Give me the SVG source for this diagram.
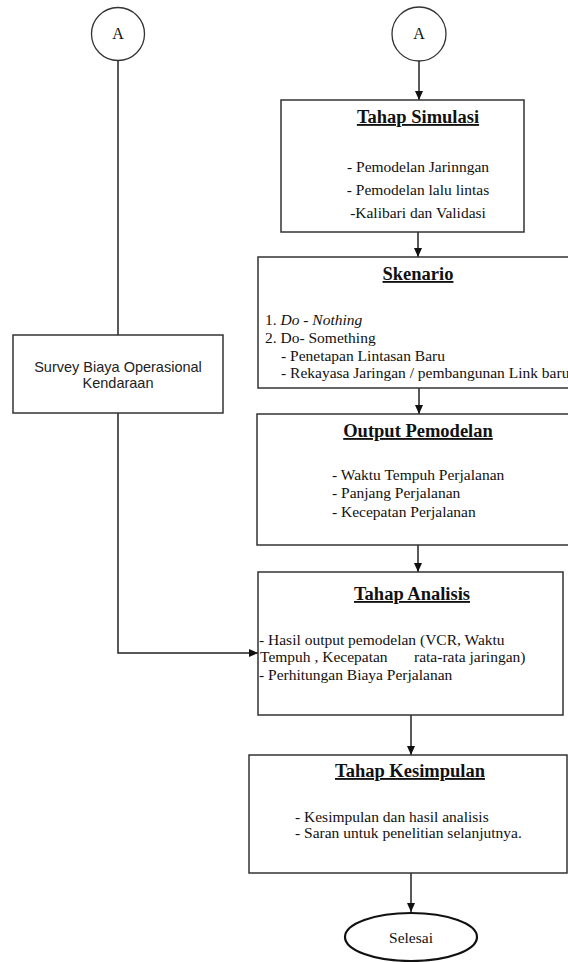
<svg xmlns="http://www.w3.org/2000/svg" width="568" height="962" viewBox="0 0 568 962">
<style>
.box{fill:#fff;stroke:#333;stroke-width:1.5}
.ln{fill:none;stroke:#222;stroke-width:1.5}
.t{font-family:"Liberation Serif","Times New Roman",serif;font-size:15.5px;fill:#111}
.h{font-family:"Liberation Serif","Times New Roman",serif;font-size:18.5px;font-weight:bold;fill:#111;text-decoration:underline;text-anchor:middle}
.s{font-family:"Liberation Sans",Arial,sans-serif;font-size:14.5px;fill:#222;text-anchor:middle}
.c{font-family:"Liberation Serif","Times New Roman",serif;font-size:16px;fill:#111;text-anchor:middle}
</style>
<defs>
<marker id="ar" markerWidth="10" markerHeight="10" refX="9" refY="5" orient="auto" markerUnits="userSpaceOnUse">
<path d="M0,1 L9,5 L0,9 Z" fill="#111"/>
</marker>
</defs>
<rect width="568" height="962" fill="#fff"/>
<g id="connectors">
<line class="ln" x1="419" y1="61" x2="419" y2="100" marker-end="url(#ar)"/>
<line class="ln" x1="418" y1="232" x2="418" y2="257" marker-end="url(#ar)"/>
<line class="ln" x1="419" y1="388" x2="419" y2="414" marker-end="url(#ar)"/>
<line class="ln" x1="418" y1="545" x2="418" y2="572" marker-end="url(#ar)"/>
<line class="ln" x1="411" y1="715" x2="411" y2="755" marker-end="url(#ar)"/>
<line class="ln" x1="411" y1="873" x2="411" y2="912" marker-end="url(#ar)"/>
<line class="ln" x1="118" y1="61" x2="118" y2="335"/>
<polyline class="ln" points="118,413 118,653 258,653" marker-end="url(#ar)"/>
</g>
<g id="nodeA1">
<circle cx="118" cy="34" r="26.5" fill="#fff" stroke="#333" stroke-width="1.3"/>
<text class="c" x="118" y="39">A</text>
</g>
<g id="nodeA2">
<circle cx="419" cy="34" r="27" fill="#fff" stroke="#333" stroke-width="1.3"/>
<text class="c" x="419" y="39">A</text>
</g>
<g id="simulasi">
<rect class="box" x="281" y="100" width="243" height="132"/>
<text class="h" x="418" y="123">Tahap Simulasi</text>
<text class="t" x="418" y="172" text-anchor="middle">- Pemodelan Jarinngan</text>
<text class="t" x="418" y="195" text-anchor="middle">- Pemodelan lalu lintas</text>
<text class="t" x="418" y="218" text-anchor="middle">-Kalibari dan Validasi</text>
</g>
<g id="skenario">
<rect class="box" x="258" y="257" width="320" height="131"/>
<text class="h" x="418" y="280">Skenario</text>
<text class="t" x="265" y="325">1. <tspan font-style="italic">Do - Nothing</tspan></text>
<text class="t" x="265" y="343">2. Do- Something</text>
<text class="t" x="281" y="361">- Penetapan Lintasan Baru</text>
<text class="t" x="281" y="378">- Rekayasa Jaringan / pembangunan Link baru</text>
</g>
<g id="survey">
<rect class="box" x="13" y="335" width="210" height="78"/>
<text class="s" x="118" y="372">Survey Biaya Operasional</text>
<text class="s" x="118" y="388">Kendaraan</text>
</g>
<g id="output">
<rect class="box" x="257" y="414" width="320" height="131"/>
<text class="h" x="418" y="437">Output Pemodelan</text>
<text class="t" x="332" y="480">- Waktu Tempuh Perjalanan</text>
<text class="t" x="332" y="498">- Panjang Perjalanan</text>
<text class="t" x="332" y="517">- Kecepatan Perjalanan</text>
</g>
<g id="analisis">
<rect class="box" x="258" y="572" width="305" height="143"/>
<text class="h" x="412" y="600">Tahap Analisis</text>
<text class="t" x="259" y="645">- Hasil output pemodelan (VCR, Waktu</text>
<text class="t" x="260" y="662">Tempuh , Kecepatan</text>
<text class="t" x="414" y="662">rata-rata jaringan)</text>
<text class="t" x="259" y="680">- Perhitungan Biaya Perjalanan</text>
</g>
<g id="kesimpulan">
<rect class="box" x="249" y="755" width="318" height="118"/>
<text class="h" x="410" y="777">Tahap Kesimpulan</text>
<text class="t" x="295" y="822" font-size="15px">- Kesimpulan dan hasil analisis</text>
<text class="t" x="295" y="838" font-size="15px">- Saran untuk penelitian selanjutnya.</text>
</g>
<g id="selesai">
<ellipse cx="411" cy="937" rx="66" ry="24" fill="#fff" stroke="#111" stroke-width="2.2"/>
<text class="t" x="411" y="943" text-anchor="middle" font-size="14">Selesai</text>
</g>
</svg>
